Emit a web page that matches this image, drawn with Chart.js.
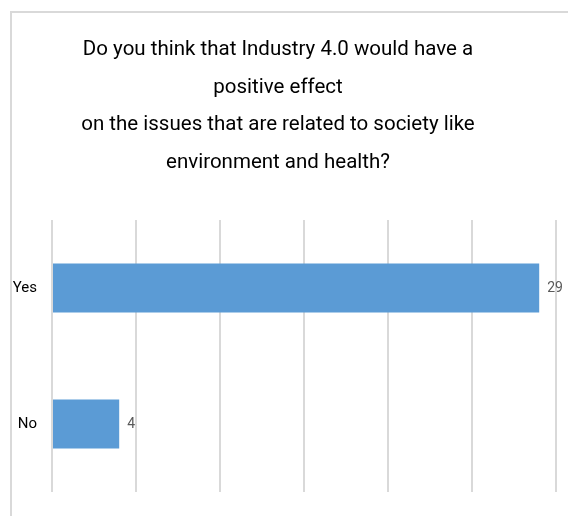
<!DOCTYPE html>
<html>
<head>
<meta charset="utf-8">
<script src="https://cdn.jsdelivr.net/npm/chart.js@4"></script>
<style>
  html, body { margin: 0; padding: 0; background: #fff; }
  #wrap { position: relative; width: 568px; height: 516px; overflow: hidden; }
  #frame { position: absolute; left: 10px; top: 11px; width: 600px; height: 560px;
           border-left: 2px solid #d9d9d9; border-top: 2px solid #d9d9d9; }
  canvas { position: absolute; left: 0; top: 0; }
</style>
</head>
<body>
<div id="wrap">
  <div id="frame"></div>
  <canvas id="chartIndustry" width="568" height="516"></canvas>
</div>
<script>
    // DATA
    var answers = ['Yes', 'No'];
    var counts = [29, 4];
    var axisMax = 30;
    var axisStep = 5;
    var titleLines = [
        'Do you think that Industry 4.0 would have a',
        'positive effect',
        'on the issues that are related to society like',
        'environment and health?'
    ];

    var fontFamily = "Roboto, 'Open Sans', sans-serif";

    // value labels at the end of each bar
    var barValues = {
        id: 'barValues',
        afterDatasetsDraw: function (chart) {
            var ctx = chart.ctx;
            var meta = chart.getDatasetMeta(0);
            ctx.save();
            ctx.font = '14px ' + fontFamily;
            ctx.fillStyle = '#595959';
            ctx.textAlign = 'left';
            ctx.textBaseline = 'middle';
            meta.data.forEach(function (bar, i) {
                ctx.fillText(String(counts[i]), bar.x + 8, bar.y + 1);
            });
            ctx.restore();
        }
    };

    // PLOTCHART
    new Chart(document.getElementById('chartIndustry'), {
        type: 'bar',
        data: {
            labels: answers,
            datasets: [{
                data: counts,
                backgroundColor: '#5b9bd5',
                borderWidth: 0,
                categoryPercentage: 1,
                barPercentage: 0.36
            }]
        },
        plugins: [barValues],
        options: {
            indexAxis: 'y',
            responsive: false,
            animation: false,
            layout: { padding: { left: 0, right: 12, bottom: 20, top: 0 } },
            plugins: {
                legend: { display: false },
                tooltip: { enabled: false },
                title: {
                    display: true,
                    text: titleLines,
                    color: '#000',
                    font: { family: fontFamily, size: 20.5, weight: 'normal', lineHeight: 1.84 },
                    padding: { top: 31, bottom: 38 }
                }
            },
            scales: {
                x: {
                    min: 0,
                    max: axisMax,
                    ticks: { display: false, stepSize: axisStep },
                    grid: { color: '#d9d9d9', lineWidth: 2, drawTicks: false },
                    border: { display: false },
                    afterFit: function (scale) { scale.height = 0; }
                },
                y: {
                    ticks: {
                        color: '#000',
                        font: { family: fontFamily, size: 15 },
                        padding: 15
                    },
                    grid: { display: false, drawTicks: false },
                    border: { display: false },
                    afterFit: function (scale) { scale.width = 52; }
                }
            }
        }
    });
</script>
</body>
</html>
